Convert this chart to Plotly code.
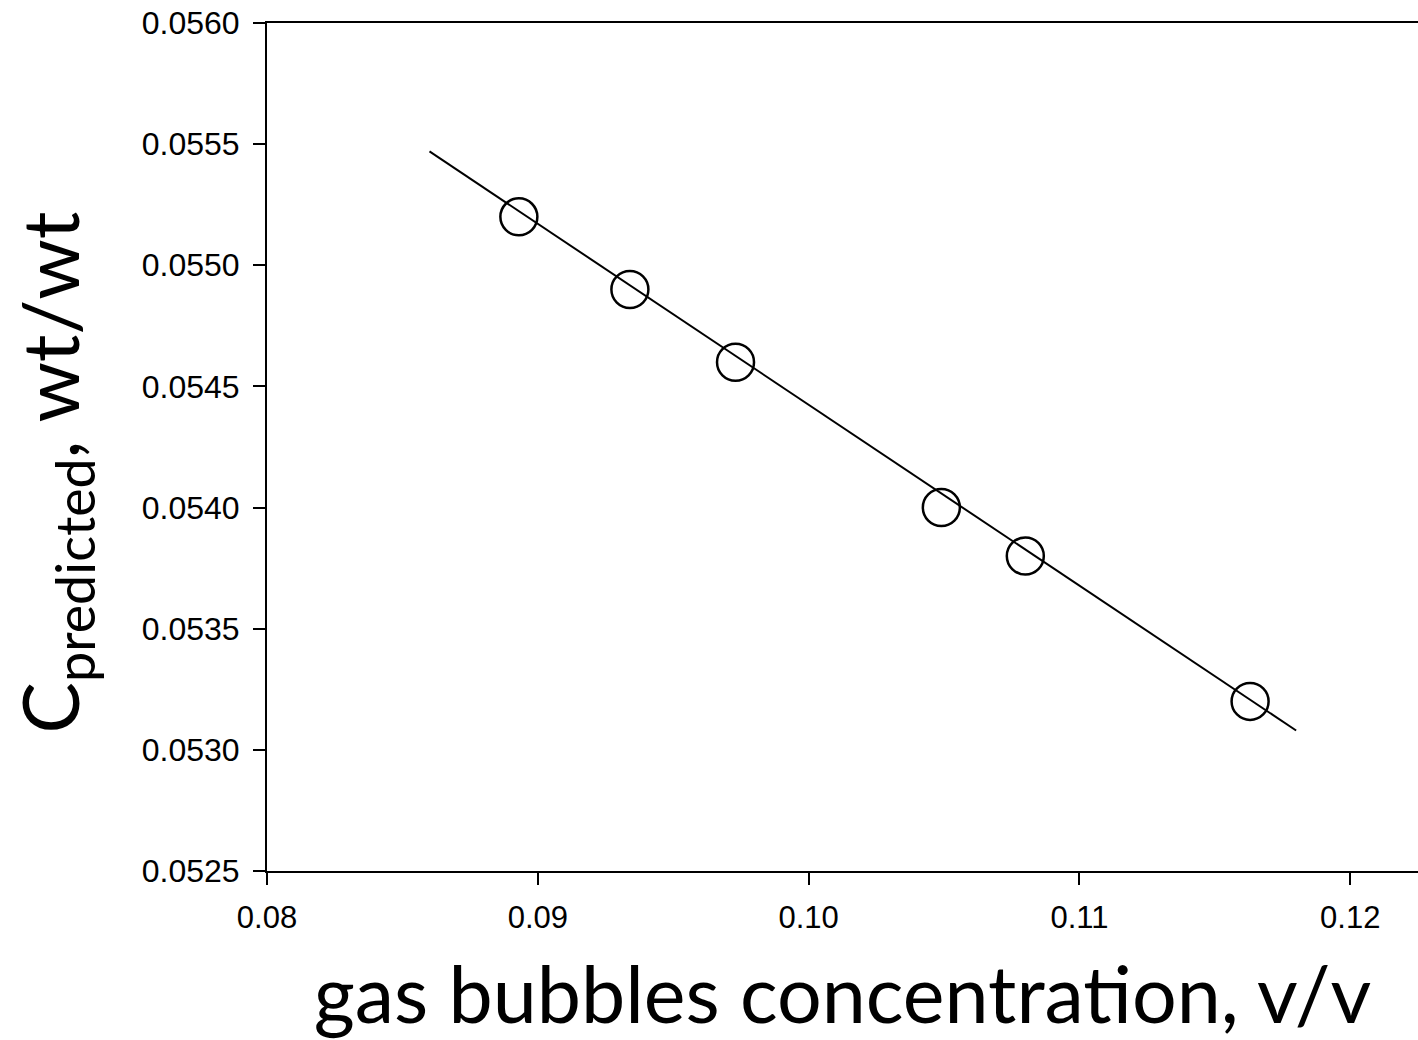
import plotly.graph_objects as go

# observed points
x_obs = [0.0893, 0.0934, 0.0973, 0.1049, 0.1080, 0.1163]
y_obs = [0.0552, 0.0549, 0.0546, 0.0540, 0.0538, 0.0532]
# fitted regression line (end points)
x_fit = [0.0860, 0.1180]
y_fit = [0.05547, 0.05308]

x_ticks = [0.08, 0.09, 0.10, 0.11, 0.12]
y_ticks = [0.0525, 0.0530, 0.0535, 0.0540, 0.0545, 0.0550, 0.0555, 0.0560]

fig = go.Figure()
fig.add_trace(go.Scatter(x=x_fit, y=y_fit, mode="lines",
                         line=dict(color="black", width=2), showlegend=False))
fig.add_trace(go.Scatter(x=x_obs, y=y_obs, mode="markers",
                         marker=dict(symbol="circle-open", size=37, color="black",
                                     line=dict(color="black", width=2.5)),
                         showlegend=False))

fig.update_layout(
    width=1418, height=1040,
    margin=dict(l=267, r=0, t=23, b=169),
    plot_bgcolor="white", paper_bgcolor="white",
    font=dict(family="Liberation Sans, Arial", color="black"),
    xaxis=dict(range=[0.08, 0.1225], tickvals=x_ticks, tickformat=".2f",
               showline=True, linecolor="black", linewidth=2, mirror=True,
               ticks="outside", ticklen=12, tickwidth=2, tickcolor="black",
               showgrid=False, zeroline=False,
               tickfont=dict(size=31, family="Liberation Sans, Arial"),
               ticklabelstandoff=6,
               title=dict(text="gas bubbles concentration, v/v",
                          font=dict(family="Lato", size=79), standoff=35)),
    yaxis=dict(range=[0.0525, 0.0560], tickvals=y_ticks, tickformat=".4f",
               showline=True, linecolor="black", linewidth=2, mirror=False,
               ticks="outside", ticklen=12, tickwidth=2, tickcolor="black",
               showgrid=False, zeroline=False,
               tickfont=dict(size=32, family="Liberation Sans, Arial"),
               ticklabelstandoff=7),
)

fig.add_annotation(text="C<sub>predicted</sub>, wt/wt", textangle=-90,
                   xref="paper", yref="paper", x=-0.185, y=0.47,
                   xanchor="center", yanchor="middle", showarrow=False,
                   font=dict(family="Lato", size=77, color="black"))

fig.write_html("out.html")
